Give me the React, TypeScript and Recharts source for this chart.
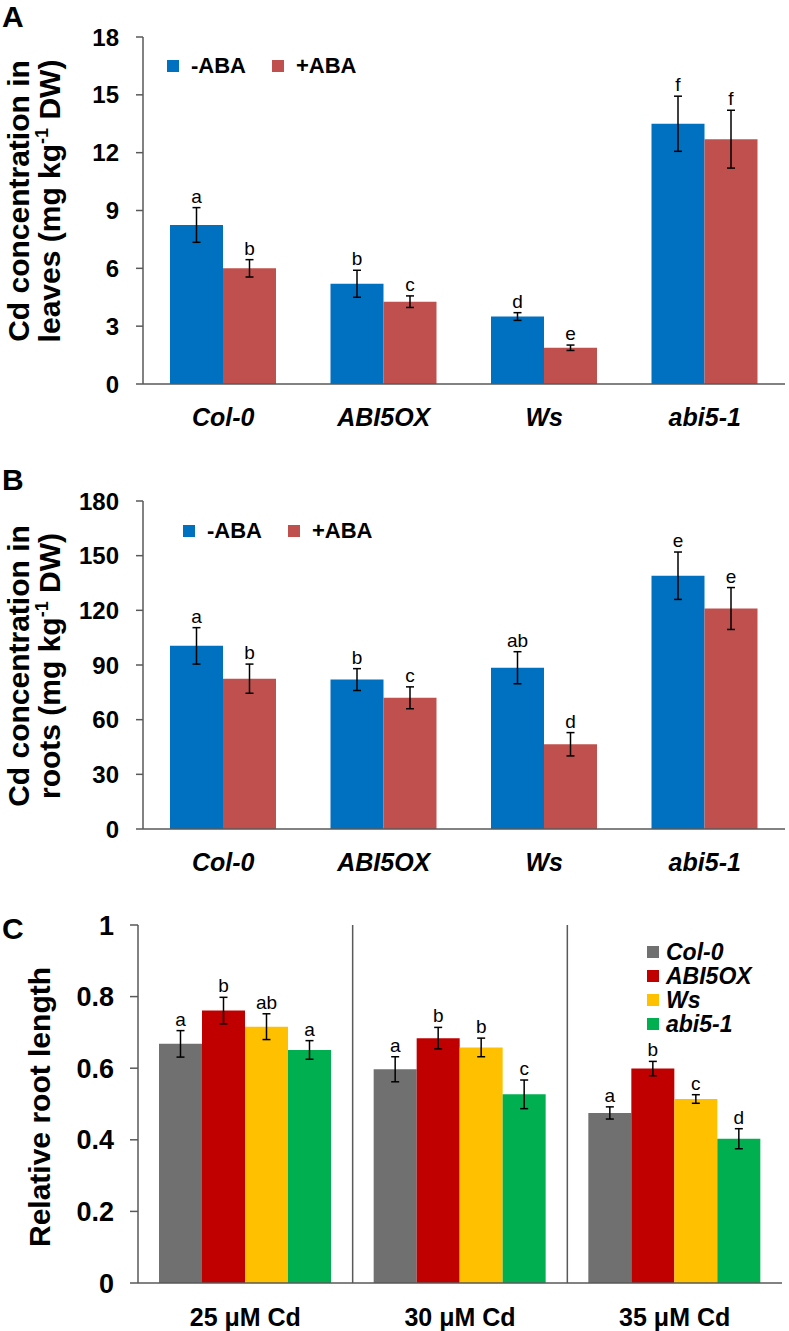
import { Bar, BarChart, ErrorBar, LabelList, Legend, ReferenceLine, XAxis, YAxis } from 'recharts'

const FONT = '"Liberation Sans", Arial, Helvetica, sans-serif'
const AXIS = '#595959'
const BLUE = '#0070C0'
const BROWN_RED = '#C0504D'
const GREY = '#707070'
const RED = '#C00000'
const YELLOW = '#FFC000'
const GREEN = '#00B050'

// panels A and B
const genotypes = ['Col-0', 'ABI5OX', 'Ws', 'abi5-1']
const treatments = ['-ABA', '+ABA']

const leafMinusABA = [8.25, 5.2, 3.5, 13.5]
const leafMinusErr = [0.9, 0.7, 0.2, 1.43]
const leafMinusLetters = ['a', 'b', 'd', 'f']
const leafPlusABA = [6.0, 4.27, 1.88, 12.7]
const leafPlusErr = [0.45, 0.3, 0.14, 1.5]
const leafPlusLetters = ['b', 'c', 'e', 'f']
const leafTicks = [0, 3, 6, 9, 12, 15, 18]

const rootMinusABA = [100.5, 82, 88.5, 139]
const rootMinusErr = [10, 6, 8.8, 13]
const rootMinusLetters = ['a', 'b', 'ab', 'e']
const rootPlusABA = [82.5, 72, 46.5, 121]
const rootPlusErr = [8, 6, 6.4, 11.5]
const rootPlusLetters = ['b', 'c', 'd', 'e']
const rootTicks = [0, 30, 60, 90, 120, 150, 180]

// panel C
const doses = ['25 μM Cd', '30 μM Cd', '35 μM Cd']
const lines = ['Col-0', 'ABI5OX', 'Ws', 'abi5-1']
const col0Len = [0.668, 0.597, 0.475]
const col0Err = [0.037, 0.035, 0.017]
const col0Letters = ['a', 'a', 'a']
const oxLen = [0.761, 0.684, 0.599]
const oxErr = [0.037, 0.03, 0.02]
const oxLetters = ['b', 'b', 'b']
const wsLen = [0.716, 0.658, 0.514]
const wsErr = [0.036, 0.026, 0.012]
const wsLetters = ['ab', 'b', 'c']
const abiLen = [0.651, 0.527, 0.403]
const abiErr = [0.026, 0.04, 0.028]
const abiLetters = ['a', 'c', 'd']
const lengthTicks = [0, 0.2, 0.4, 0.6, 0.8, 1]

type Row = Record<string, string | number>

const leafRows: Row[] = genotypes.map((g, i) => ({
  name: g,
  minus: leafMinusABA[i], minusErr: leafMinusErr[i], minusLetter: leafMinusLetters[i],
  plus: leafPlusABA[i], plusErr: leafPlusErr[i], plusLetter: leafPlusLetters[i],
}))

const rootRows: Row[] = genotypes.map((g, i) => ({
  name: g,
  minus: rootMinusABA[i], minusErr: rootMinusErr[i], minusLetter: rootMinusLetters[i],
  plus: rootPlusABA[i], plusErr: rootPlusErr[i], plusLetter: rootPlusLetters[i],
}))

const lengthRows: Row[] = doses.map((d, i) => ({
  name: d,
  col0: col0Len[i], col0Err: col0Err[i], col0Letter: col0Letters[i],
  ox: oxLen[i], oxErr: oxErr[i], oxLetter: oxLetters[i],
  ws: wsLen[i], wsErr: wsErr[i], wsLetter: wsLetters[i],
  abi: abiLen[i], abiErr: abiErr[i], abiLetter: abiLetters[i],
}))

// letter sits just above the error bar; px per unit comes from the bar the library drew
function letterLabel (rows: Row[], valueKey: string, errKey: string) {
  return (props: any) => {
    const vb = props.viewBox ?? props
    const x = Number(vb.x ?? props.x)
    const y = Number(vb.y ?? props.y)
    const w = Number(vb.width ?? props.width)
    const h = Math.abs(Number(vb.height ?? props.height))
    const row = rows[props.index]
    if (!row) return null
    const v = Number(row[valueKey])
    const e = Number(row[errKey])
    const top = y - (v ? e * h / v : 0)
    return (
      <text x={x + w / 2} y={top - 5} textAnchor="middle" fontSize={19} fontFamily={FONT} fill="#000">
        {props.value}
      </text>
    )
  }
}

function AxisTitle ({ cy, rows }: { cy: number; rows: { base: number; parts: [string, boolean][] }[] }) {
  return (
    <text transform="rotate(-90)" textAnchor="middle" fontSize={30} fontWeight="bold" fontFamily={FONT} fill="#000">
      {rows.map((r, i) => (
        <tspan key={i} x={-cy} y={r.base}>
          {r.parts.map(([t, sup], j) => sup
            ? <tspan key={j} fontSize={18} dy={-12}>{t}</tspan>
            : <tspan key={j} dy={j > 0 && r.parts[j - 1][1] ? 12 : 0}>{t}</tspan>)}
        </tspan>
      ))}
    </text>
  )
}

// recharts sorts legend items by name, put them back in series order
function SwatchLegend ({ payload, order, vertical }: { payload?: any[]; order: string[]; vertical?: boolean }) {
  const items = [...(payload ?? [])].sort((a, b) => order.indexOf(a.value) - order.indexOf(b.value))
  return (
    <div style={{ display: 'flex', flexDirection: vertical ? 'column' : 'row', fontFamily: FONT, fontWeight: 'bold', fontSize: vertical ? 23 : 22, fontStyle: vertical ? 'italic' : 'normal', color: '#000' }}>
      {items.map((p, i) => (
        <div key={i} style={{ display: 'flex', alignItems: 'center', height: 24, marginRight: vertical ? 0 : 26 }}>
          <span style={{ width: 12, height: 12, background: p.color, marginRight: vertical ? 7 : 12 }} />
          <span style={{ lineHeight: '24px' }}>{p.value}</span>
        </div>
      ))}
    </div>
  )
}

const axisLine = { stroke: AXIS, strokeWidth: 1.5 }
const tickFont = { fontSize: 24, fontWeight: 'bold', fill: '#000', fontFamily: FONT }

function AbaPanel ({ rows, ticks, max, title, titleCy, legendLeft, legendTop, top }: {
  rows: Row[]; ticks: number[]; max: number; title: string; titleCy: number; legendLeft: number; legendTop: number; top: number
}) {
  return (
    <div style={{ position: 'absolute', left: 0, top }}>
      <BarChart width={789} height={440} data={rows} margin={{ top: top === 0 ? 37 : 61, right: 4, bottom: top === 0 ? 6 : 1, left: 63 }} barGap={0} barSize={53}>
        <XAxis dataKey="name" height={50} axisLine={axisLine} tickLine={false} tickSize={0} tickMargin={24} interval={0}
          tick={{ fontSize: 25, fontWeight: 'bold', fontStyle: 'italic', fill: '#000', fontFamily: FONT }} />
        <XAxis xAxisId="top" orientation="top" dataKey="name" height={0} tick={false} tickLine={false} axisLine={axisLine} />
        <YAxis domain={[0, max]} ticks={ticks} width={80} tickSize={7} tickMargin={17} interval={0}
          tickLine={axisLine} axisLine={axisLine} tick={tickFont}
          label={<AxisTitle cy={titleCy} rows={[
            { base: 29, parts: [['Cd concentration in', false]] },
            { base: 60, parts: [[`${title} (mg kg`, false], ['-1', true], [' DW)', false]] },
          ]} />} />
        <YAxis yAxisId="right" orientation="right" domain={[0, max]} width={0} tick={false} tickLine={false} axisLine={axisLine} />
        <Legend layout="vertical" align="center" verticalAlign="middle"
          wrapperStyle={{ left: legendLeft, top: legendTop, width: 'auto', height: 'auto' }}
          content={(p: any) => <SwatchLegend payload={p.payload} order={treatments} />} />
        <Bar dataKey="minus" name={treatments[0]} fill={BLUE} isAnimationActive={false}>
          <ErrorBar dataKey="minusErr" width={4} stroke="#000" strokeWidth={1.5} direction="y" />
          <LabelList dataKey="minusLetter" content={letterLabel(rows, 'minus', 'minusErr')} />
        </Bar>
        <Bar dataKey="plus" name={treatments[1]} fill={BROWN_RED} isAnimationActive={false}>
          <ErrorBar dataKey="plusErr" width={4} stroke="#000" strokeWidth={1.5} direction="y" />
          <LabelList dataKey="plusLetter" content={letterLabel(rows, 'plus', 'plusErr')} />
        </Bar>
      </BarChart>
    </div>
  )
}

const panelLetter = (top: number): React.CSSProperties => ({
  position: 'absolute', left: 2, top, fontSize: 30, lineHeight: 1, fontWeight: 'bold', fontFamily: FONT, color: '#000',
})

export default function App () {
  const lengthSeries = [
    { key: 'col0', name: lines[0], fill: GREY },
    { key: 'ox', name: lines[1], fill: RED },
    { key: 'ws', name: lines[2], fill: YELLOW },
    { key: 'abi', name: lines[3], fill: GREEN },
  ]
  return (
    <div style={{ position: 'absolute', left: 0, top: 0, width: 789, height: 1331, background: '#fff', fontFamily: FONT }}>
      <AbaPanel rows={leafRows} ticks={leafTicks} max={18} title="leaves" titleCy={201} legendLeft={167} legendTop={54} top={0} />
      <AbaPanel rows={rootRows} ticks={rootTicks} max={180} title="roots" titleCy={226} legendLeft={183} legendTop={79} top={440} />

      <div style={{ position: 'absolute', left: 0, top: 880 }}>
        <BarChart width={789} height={451} data={lengthRows} margin={{ top: 45, right: 7, bottom: 0, left: 58 }} barGap={0} barSize={43}>
          <XAxis dataKey="name" height={48} axisLine={axisLine} tickLine={false} tickSize={0} tickMargin={25} interval={0}
            tick={{ fontSize: 25, fontWeight: 'bold', fill: '#000', fontFamily: FONT }} />
          <XAxis xAxisId="top" orientation="top" dataKey="name" height={0} tick={false} tickLine={false} axisLine={axisLine} />
          <YAxis domain={[0, 1]} ticks={lengthTicks} width={80} tickSize={8} tickMargin={16} interval={0}
            tickLine={axisLine} axisLine={axisLine} tick={{ ...tickFont, fontSize: 27 }}
            label={<AxisTitle cy={227} rows={[{ base: 50, parts: [['Relative root length', false]] }]} />} />
          <YAxis yAxisId="right" orientation="right" domain={[0, 1]} width={0} tick={false} tickLine={false} axisLine={axisLine} />
          <ReferenceLine x={doses[1]} position="start" stroke={AXIS} strokeWidth={1.5}
            segment={[{ x: doses[1], y: 0.015 }, { x: doses[1], y: 1 }]} />
          <ReferenceLine x={doses[2]} position="start" stroke={AXIS} strokeWidth={1.5}
            segment={[{ x: doses[2], y: 0.015 }, { x: doses[2], y: 1 }]} />
          <Legend layout="vertical" align="center" verticalAlign="middle"
            wrapperStyle={{ left: 647, top: 60, width: 'auto', height: 'auto' }}
            content={(p: any) => <SwatchLegend payload={p.payload} order={lines} vertical />} />
          {lengthSeries.map((s) => (
            <Bar key={s.key} dataKey={s.key} name={s.name} fill={s.fill} isAnimationActive={false}>
              <ErrorBar dataKey={`${s.key}Err`} width={4} stroke="#000" strokeWidth={1.5} direction="y" />
              <LabelList dataKey={`${s.key}Letter`} content={letterLabel(lengthRows, s.key, `${s.key}Err`)} />
            </Bar>
          ))}
        </BarChart>
      </div>

      <div style={panelLetter(2)}>A</div>
      <div style={panelLetter(465)}>B</div>
      <div style={panelLetter(914)}>C</div>
    </div>
  )
}
